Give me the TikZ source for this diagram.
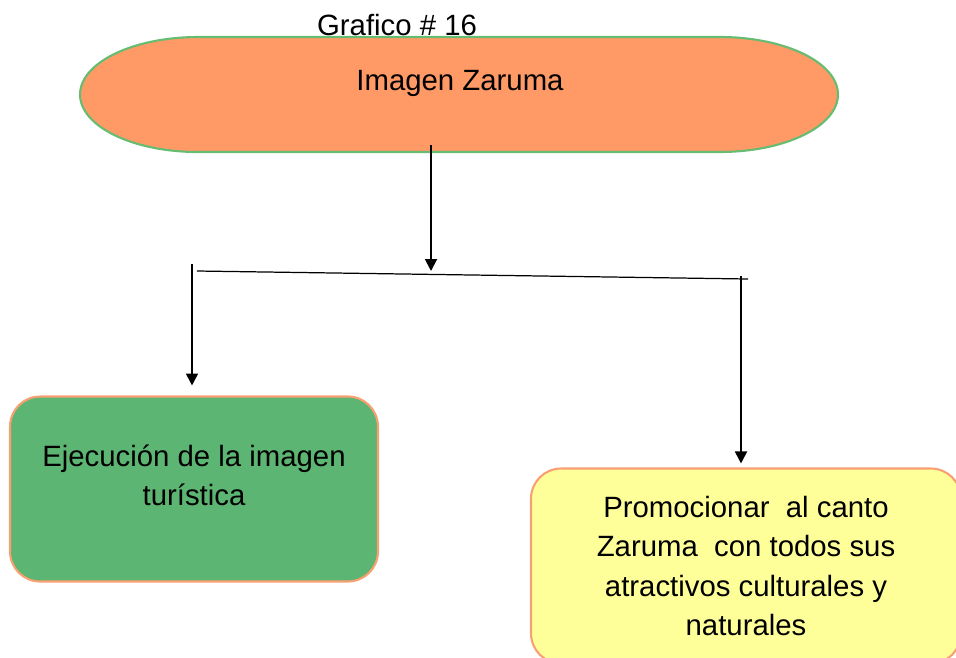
\documentclass[tikz,border=0pt]{standalone}
\usepackage{fontspec}
\setmainfont{Liberation Sans}
\usetikzlibrary{arrows.meta, positioning}
\definecolor{pillfill}{HTML}{FF9A66}
\definecolor{pillline}{HTML}{66BC70}
\definecolor{ejecfill}{HTML}{5CB572}
\definecolor{boxline}{HTML}{F9A073}
\definecolor{promofill}{HTML}{FFFF99}
\tikzset{%
>={Triangle[width=6.8pt,length=6.8pt]},
  % Specifications for style of nodes:
            txt/.style = {font=\fontsize{16.7}{22.3}\selectfont, align=center, inner sep=0pt},
            pill/.style = {draw=pillline, line width=1.2pt, fill=pillfill},
            ejecbox/.style = {rectangle, rounded corners=0.6cm, draw=boxline,
                            line width=1.2pt, fill=ejecfill, minimum width=7.36cm,
                            minimum height=3.7cm},
            promobox/.style = {rectangle, rounded corners=0.6cm, draw=boxline,
                            line width=1.2pt, fill=promofill, minimum width=8.6cm,
                            minimum height=3.9cm, txt},
            arrowline/.style = {->, line width=1.1pt}
}
\begin{document}
\begin{tikzpicture}[x=0.02cm, y=-0.02cm]
                        \useasboundingbox (0,0) rectangle (956,657);
                        \draw[pill] (198,37) -- (720,37)
                            arc[start angle=90, end angle=-90, x radius=2.36cm, y radius=1.15cm]
                            -- (198,152)
                            arc[start angle=270, end angle=90, x radius=2.36cm, y radius=1.15cm]
                            -- cycle;
                        \node[txt] (title) at (397,25) {Grafico \# 16};
                        \node[txt] (zaruma) at (460,83) {Imagen Zaruma};
                        \node[ejecbox] (ejec) at (194,489) {};
                        \node[txt] (ejectxt) at (194,475) {Ejecución de la imagen\\turística};
                        \node[promobox] (promo) at (746,566) {Promocionar\ \ al canto\\Zaruma\ \ con todos sus\\atractivos culturales y\\naturales};
                        \coordinate (start) at (431,145);
                        \coordinate (split) at (431,271);
                        \coordinate (barL) at (197,271);
                        \coordinate (barR) at (748,279);
                        \coordinate (legL) at (192,264);
                        \coordinate (legR) at (741,276);
                        \draw[arrowline] (start)--(split);
                        \draw[line width=0.7pt] (barL)--(barR);
                        \draw[arrowline, shorten >=5.7pt] (legL)--(legL |- ejec.north);
                        \draw[arrowline, shorten >=2.3pt] (legR)--(legR |- promo.north);
                    \end{tikzpicture}
\end{document}
